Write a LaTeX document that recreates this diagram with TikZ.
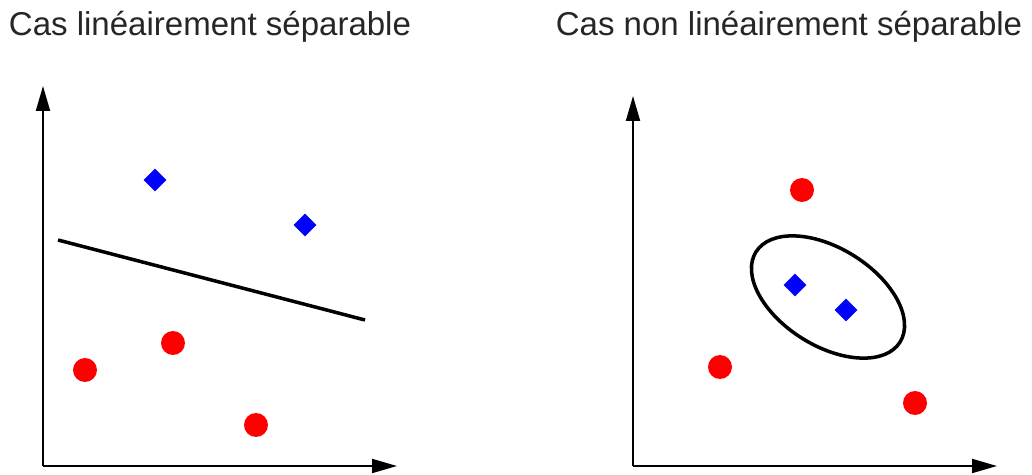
\documentclass[tikz,border=0pt]{standalone}
\usepackage{fontspec}
\setmainfont{Liberation Sans}
\usetikzlibrary{arrows.meta,shapes.geometric}
\tikzset{
  axe/.style={line width=1.1pt,-{Triangle[length=0.5cm,width=0.28cm]}},
  rond/.style={circle,fill=red,inner sep=0pt,minimum size=0.48cm},
  losange/.style={diamond,fill=blue,inner sep=0pt,minimum size=0.46cm},
  titre/.style={font=\fontsize{18.8}{22}\selectfont,text=black!85}
}
\begin{document}
\begin{tikzpicture}[x=0.02cm,y=0.02cm]
        \useasboundingbox (0,0) rectangle (1032,474);
        % titles
        \node[titre] (t1) at (210,447) {Cas linéairement séparable};
        \node[titre] (t2) at (789,447) {Cas non linéairement séparable};
        % axes
        \coordinate (o1) at (43,8);\coordinate (y1) at (43,388);\coordinate (x1) at (397,8);
        \coordinate (o2) at (633,8);\coordinate (y2) at (633,378);\coordinate (x2) at (997,8);
        \draw [axe] (o1) -- (y1);\draw [axe] (o1) -- (x1);
        \draw [axe] (o2) -- (y2);\draw [axe] (o2) -- (x2);
        % left points
        \node[losange] (b1) at (155,294) {};\node[losange] (b2) at (305,249) {};
        \node[rond] (r1) at (85,104) {};\node[rond] (r2) at (173,131) {};\node[rond] (r3) at (256,49) {};
        \coordinate (s1) at (58,234);\coordinate (s2) at (365,154);
        \draw [line width=2pt] (s1) -- (s2);
        % right points
        \node[losange] (b3) at (795,189) {};\node[losange] (b4) at (846,164) {};
        \node[rond] (r4) at (802,284) {};\node[rond] (r5) at (720,107) {};\node[rond] (r6) at (915,71) {};
        \node[ellipse,draw,line width=2pt,minimum width=3.4cm,minimum height=1.95cm,rotate=-32] (e) at (828,177) {};
    \end{tikzpicture}
\end{document}
